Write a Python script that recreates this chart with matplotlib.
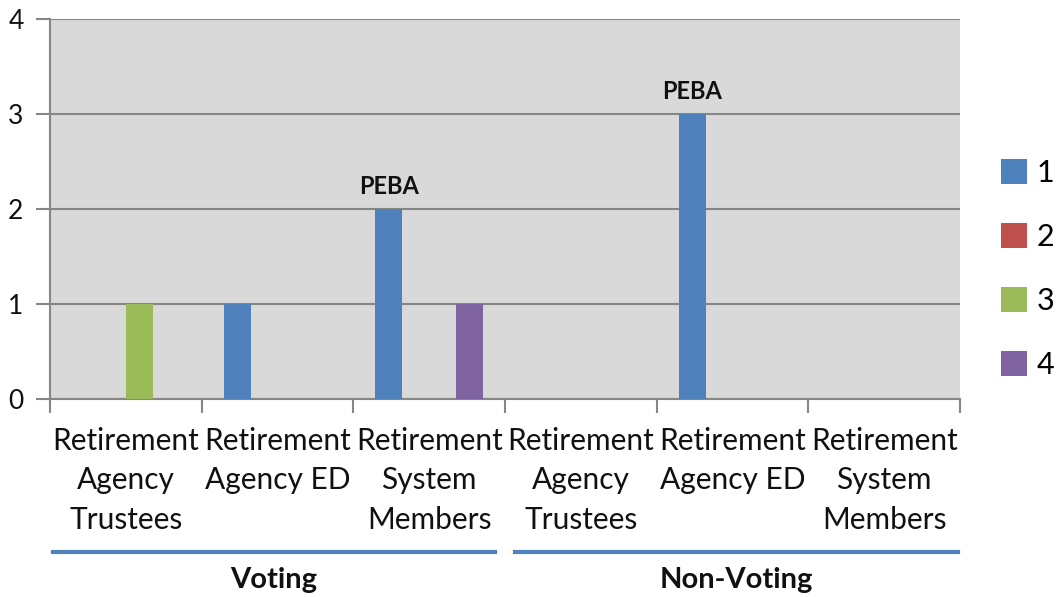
import numpy as np
import matplotlib
matplotlib.use("Agg")
import matplotlib.pyplot as plt
from matplotlib.patches import Patch

plt.rcParams['font.family'] = ['Lato', 'DejaVu Sans']

# categories and groups
categories = ["Retirement\nAgency\nTrustees", "Retirement\nAgency ED", "Retirement\nSystem\nMembers",
              "Retirement\nAgency\nTrustees", "Retirement\nAgency ED", "Retirement\nSystem\nMembers"]
groups = ["Voting", "Non-Voting"]
series_names = ["1", "2", "3", "4"]

# values per series
s1 = [0, 1, 2, 0, 3, 0]
s2 = [0, 0, 0, 0, 0, 0]
s3 = [1, 0, 0, 0, 0, 0]
s4 = [0, 0, 1, 0, 0, 0]
series = [s1, s2, s3, s4]
colors = ["#4F81BD", "#C0504D", "#9BBB59", "#8064A2"]

# labels on bars
bar_labels = [(0, 2, "PEBA"), (0, 4, "PEBA")]  # (series index, category index, text)

fig = plt.figure(figsize=(10.57, 5.97), dpi=100)
ax = fig.add_axes([50/1057, 1 - 399/597, 910/1057, 380/597])
ax.set_facecolor("#D9D9D9")

x = np.arange(len(categories))
w = 0.178
for i, (vals, c) in enumerate(zip(series, colors)):
    ax.bar(x + (i - 1.5) * w, vals, width=w, color=c, zorder=3, label=series_names[i])

for si, ci, txt in bar_labels:
    ax.text(x[ci] + (si - 1.5) * w, series[si][ci] + 0.12, txt, ha="center", va="bottom",
            fontsize=17, fontweight="bold", color="#111111")

ax.set_xlim(-0.5, len(categories) - 0.5)
ax.set_ylim(0, 4)
ax.set_yticks([0, 1, 2, 3, 4])
ax.yaxis.grid(True, color="#868686", linewidth=1.5, zorder=1)
ax.set_axisbelow(True)

ax.set_xticks(x)
ax.set_xticklabels(categories, fontsize=21.5, linespacing=1.5, color="#111111")
ax.set_xticks(np.arange(len(categories) + 1) - 0.5, minor=True)
ax.tick_params(axis="x", which="major", length=0, pad=20)
ax.tick_params(axis="x", which="minor", length=10, width=1.5, color="#868686")
ax.tick_params(axis="y", length=10, width=1.5, color="#868686", labelsize=19, pad=9,
               labelcolor="#111111")

for sp in ["top", "right"]:
    ax.spines[sp].set_visible(False)
for sp in ["left", "bottom"]:
    ax.spines[sp].set_color("#868686")
    ax.spines[sp].set_linewidth(1.5)

# group lines and labels
tr = ax.get_xaxis_transform()
insets = [(0.02, 0.066), (0.066, 0.013)]
for gi, g in enumerate(groups):
    x0 = gi * 3 - 0.5 + insets[gi][0]
    x1 = gi * 3 + 2.5 - insets[gi][1]
    ax.plot([x0, x1], [-0.4026, -0.4026], color="#4F81BD", lw=3, transform=tr, clip_on=False)
    ax.text((x0 + x1) / 2, -0.476, g, ha="center", va="center", fontsize=21, fontweight="bold",
            transform=tr, color="#111111")

handles = [Patch(facecolor=c, edgecolor="none") for c in colors]
fig.legend(handles, series_names, loc="center left", bbox_to_anchor=(995/1057, 1 - 269/597),
           frameon=False, fontsize=22, handlelength=0.85, handleheight=0.85,
           labelspacing=1.18, handletextpad=0.3, borderaxespad=0, borderpad=0.2)

fig.savefig("out.png", dpi=100)
